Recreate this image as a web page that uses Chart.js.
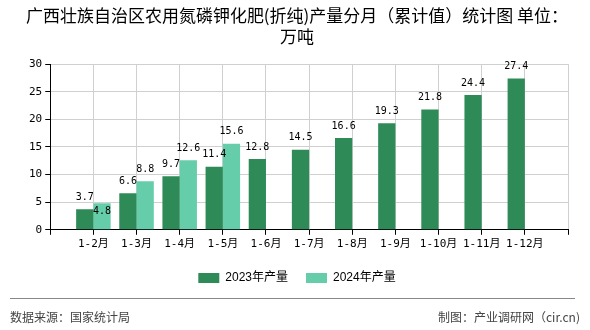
<!DOCTYPE html>
<html>
<head>
<meta charset="utf-8">
<script src="https://cdn.jsdelivr.net/npm/chart.js@4.4.1/dist/chart.umd.min.js"></script>
<style>
    body { margin: 0; background: #fff; }
    .wrap { position: relative; width: 590px; height: 330px; }
    .wrap canvas { position: absolute; left: 0; top: 0; }
    .rule { position: absolute; left: 10px; right: 15px; top: 298px; border-top: 1px solid #888; }
    .foot { position: absolute; top: 308px; font: 12px "Noto Sans CJK SC", sans-serif; color: #444; }
</style>
</head>
<body>
<div class="wrap">
    <canvas id="chart" width="590" height="330"></canvas>
    <div class="rule"></div>
    <div class="foot" style="left:10px;">数据来源：国家统计局</div>
    <div class="foot" style="right:10px;">制图：产业调研网（cir.cn)</div>
</div>
<script>
// data
const categories = ['1-2月', '1-3月', '1-4月', '1-5月', '1-6月', '1-7月', '1-8月', '1-9月', '1-10月', '1-11月', '1-12月'];
const values2023 = [3.7, 6.6, 9.7, 11.4, 12.8, 14.5, 16.6, 19.3, 21.8, 24.4, 27.4];
const values2024 = [4.8, 8.8, 12.6, 15.6, null, null, null, null, null, null, null];
const seriesNames = ['2023年产量', '2024年产量'];
const yTicks = [0, 5, 10, 15, 20, 25, 30];

// axis has an empty slot at each end, ticks sit on the grid lines
const labels = [''].concat(categories, ['']);
const pad = arr => [null].concat(arr, [null]);

const monoFont = '"DejaVu Sans Mono", "Noto Sans CJK SC", monospace';

// value labels above bars; a label that would collide with one already drawn goes inside its bar
const valueLabels = {
    id: 'valueLabels',
    afterDatasetsDraw(chart) {
        const ctx = chart.ctx;
        ctx.save();
        ctx.font = '10px ' + monoFont;
        ctx.fillStyle = '#000';
        ctx.textAlign = 'center';
        ctx.textBaseline = 'middle';
        const placed = [];
        chart.data.datasets.forEach((ds, di) => {
            const meta = chart.getDatasetMeta(di);
            meta.data.forEach((bar, i) => {
                const v = ds.data[i];
                if (v == null) return;
                const text = v.toFixed(1);
                const w = ctx.measureText(text).width;
                let y = bar.y - 12;
                const hit = placed.some(p => Math.abs(p.x - bar.x) < (p.w + w) / 2 && Math.abs(p.y - y) < 10);
                if (hit) y = bar.y + 8;
                placed.push({ x: bar.x, y: y, w: w });
                ctx.fillText(text, bar.x, y);
            });
        });
        ctx.restore();
    }
};

const ctx = document.getElementById('chart').getContext('2d');
new Chart(ctx, {
    type: 'bar',
    data: {
        labels: labels,
        datasets: [
            { label: seriesNames[0], data: pad(values2023), backgroundColor: '#2E8B57' },
            { label: seriesNames[1], data: pad(values2024), backgroundColor: '#66CDAA' }
        ]
    },
    options: {
        responsive: false,
        animation: false,
        categoryPercentage: 0.8,
        barPercentage: 1.0,
        layout: { padding: { left: 26, right: 22, top: 0, bottom: 36 } },
        scales: {
            x: {
                offset: false,
                grid: { offset: false, color: '#d0d0d0', tickColor: '#000', tickLength: 5 },
                border: { color: '#000' },
                ticks: { color: '#000', font: { size: 11, family: monoFont }, autoSkip: false, maxRotation: 0, padding: 3 }
            },
            y: {
                min: yTicks[0],
                max: yTicks[yTicks.length - 1],
                afterBuildTicks: axis => { axis.ticks = yTicks.map(v => ({ value: v })); },
                grid: { color: '#d0d0d0', tickColor: '#000', tickLength: 5 },
                border: { color: '#000' },
                ticks: { color: '#000', font: { size: 11, family: monoFont }, padding: 3 }
            }
        },
        plugins: {
            title: {
                display: true,
                text: ['广西壮族自治区农用氮磷钾化肥(折纯)产量分月（累计值）统计图 单位：', '万吨'],
                color: '#000',
                font: { size: 17, weight: 'normal', family: '"Noto Sans CJK SC", sans-serif', lineHeight: 1.18 },
                padding: { top: 6, bottom: 18 }
            },
            legend: {
                position: 'bottom',
                labels: {
                    boxWidth: 21,
                    boxHeight: 10,
                    color: '#000',
                    padding: 18,
                    font: { size: 12, family: '"Liberation Sans", "Noto Sans CJK SC", sans-serif' }
                }
            },
            tooltip: { enabled: false }
        }
    },
    plugins: [valueLabels]
});
</script>
</body>
</html>
